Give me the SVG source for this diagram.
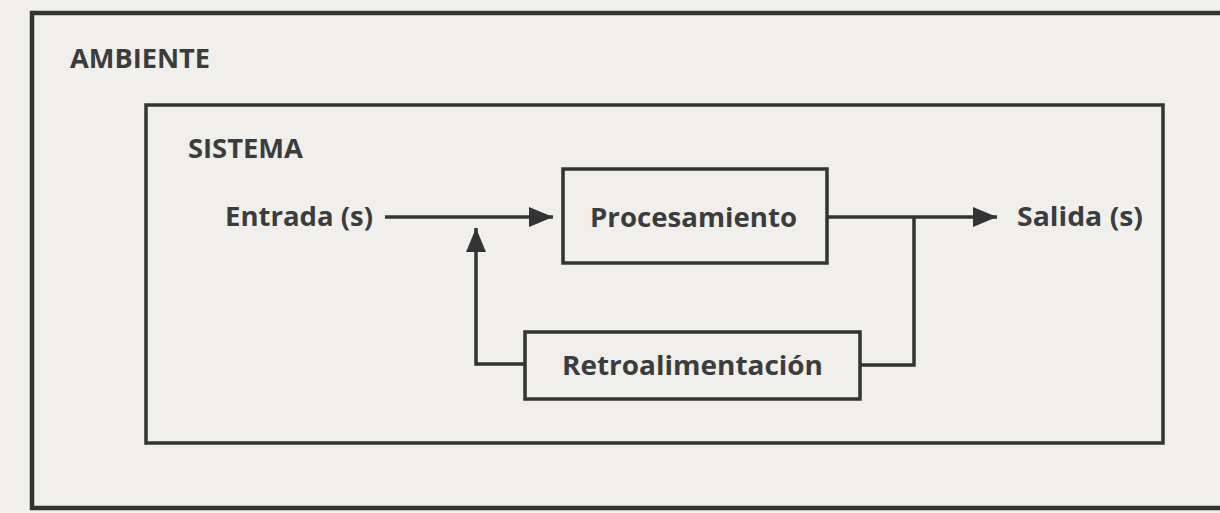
<svg xmlns="http://www.w3.org/2000/svg" width="1220" height="513" viewBox="0 0 1220 513">
<defs>
<style>
.t{font-family:"Open Sans","Noto Sans","Liberation Sans",sans-serif;font-weight:700;fill:#3c3c3c}
.h{font-size:26px}
.l{font-size:27px}
.box{fill:none;stroke:#333;stroke-width:3.5}
.ln{fill:none;stroke:#333;stroke-width:3.5}
</style>
<marker id="arr" viewBox="0 0 24 20" refX="24" refY="10" markerWidth="24" markerHeight="20" markerUnits="userSpaceOnUse" orient="auto">
<path d="M0,0 L24,10 L0,20 z" fill="#333"/>
</marker>
</defs>
<rect x="0" y="0" width="1220" height="513" fill="#f0efeb"/>
<g id="ambiente">
<path d="M1222,13 H32 V508 H1222" fill="none" stroke="#333" stroke-width="4.5"/>
<text class="t h" x="70" y="68" textLength="140" lengthAdjust="spacingAndGlyphs">AMBIENTE</text>
</g>
<g id="sistema">
<rect class="box" x="146" y="105" width="1017" height="338"/>
<text class="t h" x="188" y="158" textLength="115" lengthAdjust="spacingAndGlyphs">SISTEMA</text>
</g>
<g id="entrada">
<text class="t l" x="225" y="226" textLength="148" lengthAdjust="spacingAndGlyphs">Entrada (s)</text>
</g>
<g id="procesamiento">
<rect class="box" x="563" y="169" width="264" height="94"/>
<text class="t l" x="590" y="227" textLength="207" lengthAdjust="spacingAndGlyphs">Procesamiento</text>
</g>
<g id="salida">
<text class="t l" x="1017" y="226" textLength="126" lengthAdjust="spacingAndGlyphs">Salida (s)</text>
</g>
<g id="retroalimentacion">
<rect class="box" x="525" y="332" width="335" height="67"/>
<text class="t l" x="562" y="375" textLength="261" lengthAdjust="spacingAndGlyphs">Retroalimentación</text>
</g>
<g id="connectors">
<path class="ln" d="M385,217 H553" marker-end="url(#arr)"/>
<path class="ln" d="M827,217 H997" marker-end="url(#arr)"/>
<path class="ln" d="M860,365 H914 V217"/>
<path class="ln" d="M525,364 H476 V228" marker-end="url(#arr)"/>
</g>
</svg>
